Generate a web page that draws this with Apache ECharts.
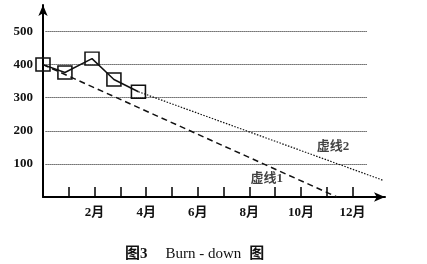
<!DOCTYPE html>
<html><head><meta charset="utf-8">
<script src="https://cdn.jsdelivr.net/npm/echarts@6/dist/echarts.min.js"></script>
<style>html,body{margin:0;padding:0;background:#fff}#c{width:427px;height:264px}</style>
</head><body><div id="c"></div>
<script>
// ---- data ----
const actualMonths = [0, 0.85, 1.9, 2.75, 3.7];
const actualValues = [400, 376, 418, 355, 318];
const dash1Months = [0, 11.4];
const dash1Values = [400, 0];
const dash2Months = [3.7, 13.2];
const dash2Values = [318, 50];
const yTicks = [100, 200, 300, 400, 500];
const xTickMonths = [1,2,3,4,5,6,7,8,9,10,11,12];
const xLabelMonths = [2,4,6,8,10,12];
const gridEndMonth = 12.56;
const noteNames = ['虚线1', '虚线2'];
const noteMonths = [8.68, 11.24];
const noteValues = [55, 152];
const captionParts = ['图3', 'Burn - down', '图'];

const pair = (xs, ys) => xs.map((x, i) => [x, ys[i]]);
const serif = '"Liberation Serif", "Noto Sans CJK SC", serif';

const chart = echarts.init(document.getElementById('c'), null, {renderer: 'canvas'});
chart.setOption({
  animation: false,
  backgroundColor: '#fff',
  title: {
    text: '{a|' + captionParts[0] + '}{s|}{b|' + captionParts[1] + '}{t|}{a|' + captionParts[2] + '}',
    left: 125, top: 247, padding: 0,
    textStyle: {
      fontFamily: serif, fontSize: 15, color: '#111',
      rich: {
        a: {fontFamily: serif, fontSize: 15, fontWeight: 'bold', color: '#111'},
        b: {fontFamily: serif, fontSize: 15, fontWeight: 'normal', color: '#111'},
        s: {width: 18},
        t: {width: 8}
      }
    }
  },
  grid: {left: 43, right: 42, top: 5, bottom: 67},
  xAxis: {
    type: 'value', min: 0, max: 13.26,
    splitLine: {show: false},
    axisLine: {show: true, lineStyle: {color: '#000', width: 2}, symbol: ['none', 'arrow'], symbolSize: [7, 11]},
    axisTick: {show: true, inside: true, length: 10, customValues: xTickMonths, lineStyle: {color: '#000', width: 1.5}},
    axisLabel: {customValues: xLabelMonths, formatter: '{value}月', margin: 9, color: '#111',
      fontFamily: serif, fontSize: 13, fontWeight: 'bold'}
  },
  yAxis: {
    type: 'value', min: 0, max: 580, interval: 100,
    splitLine: {show: false},
    axisLine: {show: true, lineStyle: {color: '#000', width: 2}, symbol: ['none', 'arrow'], symbolSize: [7, 11]},
    axisTick: {show: false},
    axisLabel: {showMinLabel: false, showMaxLabel: false, margin: 10, color: '#111',
      fontFamily: serif, fontSize: 13, fontWeight: 'bold'}
  },
  series: [
    {
      type: 'line', data: [], silent: true,
      markLine: {
        silent: true, symbol: 'none', label: {show: false},
        lineStyle: {type: [1, 1], color: '#111', width: 1},
        data: yTicks.map(v => [{coord: [0.1, v]}, {coord: [gridEndMonth, v]}])
      }
    },
    {
      type: 'line', data: pair(dash1Months, dash1Values), symbol: 'none', z: 2,
      lineStyle: {type: [6, 4], color: '#111', width: 1.5}
    },
    {
      type: 'line', data: pair(dash2Months, dash2Values), symbol: 'none', z: 2,
      lineStyle: {type: [1.5, 1.5], color: '#111', width: 1.2}
    },
    {
      type: 'line', data: pair(actualMonths, actualValues), z: 5,
      symbol: 'rect', symbolSize: [14, 13],
      lineStyle: {color: '#111', width: 1.5},
      itemStyle: {color: 'rgba(255,255,255,0)', borderColor: '#111', borderWidth: 1.5}
    },
    {
      type: 'scatter', symbolSize: 0, z: 6,
      data: noteNames.map((n, i) => ({name: n, value: [noteMonths[i], noteValues[i]]})),
      label: {show: true, position: 'inside', formatter: '{b}', color: '#111',
        fontFamily: serif, fontSize: 13, fontWeight: 'bold'}
    }
  ]
});
</script></body></html>
